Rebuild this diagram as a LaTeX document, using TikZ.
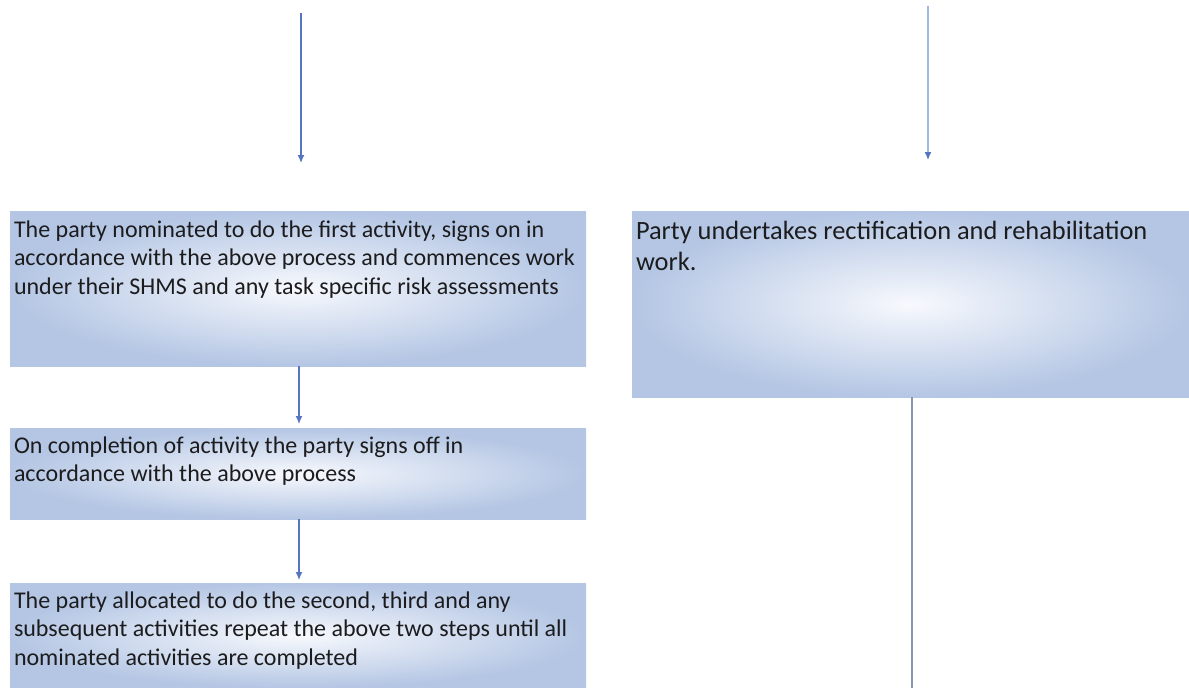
\documentclass[tikz,border=0pt]{standalone}
\usepackage{fontspec}
\setmainfont{Carlito}
\usetikzlibrary{arrows.meta,calc}
\definecolor{boxedge}{RGB}{180,198,228}
\definecolor{boxcentre}{RGB}{247,249,253}
\definecolor{arrowblue}{RGB}{86,116,192}
\definecolor{arrowpale}{RGB}{160,185,222}
\definecolor{linegrey}{RGB}{132,150,176}
\definecolor{textdark}{RGB}{28,28,30}
\tikzset{
  flowbox/.style={rectangle, inner sep=0pt, outer sep=0pt, anchor=north west,
    shade, inner color=boxcentre, outer color=boxedge},
  boxtext/.style={anchor=north west, inner sep=0pt, outer sep=0pt, align=left,
    text=textdark, font=\fontsize{24}{28.5}\selectfont},
  boxtextwide/.style={boxtext, font=\fontsize{26.4}{31}\selectfont},
  flowarrow/.style={draw=arrowblue, line width=1.3pt,
    -{Latex[length=8pt,width=7pt]}},
  palearrow/.style={draw=arrowpale, line width=1.3pt,
    -{Latex[length=8pt,width=7pt,color=arrowblue]}},
  flowline/.style={draw=linegrey, line width=1.3pt},
}
\newcommand{\firstlinestrut}{\rule{0pt}{20pt}}
\newcommand{\widelinestrut}{\rule{0pt}{22pt}}
\begin{document}
\begin{tikzpicture}[x=1pt,y=-1pt]
\useasboundingbox (0,0) rectangle (1189,688);
% boxes
\node[flowbox, minimum width=576pt, minimum height=155pt] (b1) at (10,211) {};
\node[flowbox, minimum width=576pt, minimum height=91pt] (b2) at (10,428) {};
\node[flowbox, minimum width=576pt, minimum height=105pt] (b3) at (10,583) {};
\node[flowbox, minimum width=557pt, minimum height=186pt] (r1) at (632,211) {};
% texts
\node[boxtext] (t1) at ($(b1.north west)+(4,6)$)
  {\firstlinestrut The party nominated to do the first activity, signs on in\\
   accordance with the above process and commences work\\
   under their SHMS and any task specific risk assessments};
\node[boxtext] (t2) at ($(b2.north west)+(4,5)$)
  {\firstlinestrut On completion of activity the party signs off in\\
   accordance with the above process};
\node[boxtext] (t3) at ($(b3.north west)+(4,5)$)
  {\firstlinestrut The party allocated to do the second, third and any\\
   subsequent activities repeat the above two steps until all\\
   nominated activities are completed};
\node[boxtextwide] (tr) at ($(r1.north west)+(4,6)$)
  {\widelinestrut Party undertakes rectification and rehabilitation\\
   work.};
% connectors
\coordinate (la) at (301,13);
\coordinate (lb) at (301,163);
\coordinate (ra) at (928,6);
\coordinate (rb) at (928,160);
\coordinate (mx) at (299,0);
\coordinate (rend) at (912,688);
\draw[flowarrow] (la) -- (lb);
\draw[palearrow] (ra) -- (rb);
\draw[flowarrow] (b1.south -| mx) -- ($(b2.north -| mx)+(0,-4)$);
\draw[flowarrow] (b2.south -| mx) -- ($(b3.north -| mx)+(0,-3)$);
\draw[flowline] (r1.south -| rend) -- (rend);
\end{tikzpicture}
\end{document}
